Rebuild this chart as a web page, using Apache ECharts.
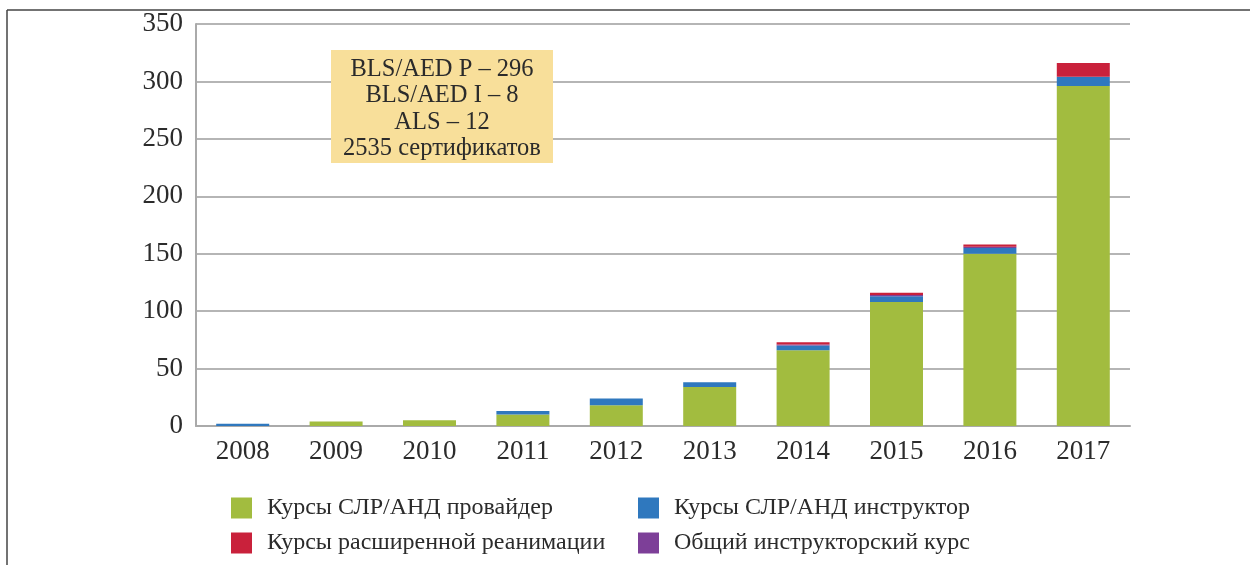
<!DOCTYPE html>
<html>
<head>
<meta charset="utf-8">
<script src="https://cdn.jsdelivr.net/npm/echarts@6/dist/echarts.min.js"></script>
<style>html,body{margin:0;padding:0;background:#fff;}#c{width:1250px;height:565px;}</style>
</head>
<body>
<div id="c"></div>
<script>
const categories = ['2008','2009','2010','2011','2012','2013','2014','2015','2016','2017'];
const providerCourses = [0, 4, 5, 10, 18, 34, 66, 108, 150, 296];
const instructorCourses = [2, 0, 0, 3, 6, 4, 4, 5, 5, 8];
const generalInstructor = [0, 0, 0, 0, 0, 0, 1, 1, 1, 0];
const advancedCourses = [0, 0, 0, 0, 0, 0, 2, 2, 2, 12];
const seriesNames = ['Курсы СЛР/АНД провайдер','Курсы СЛР/АНД инструктор','Курсы расширенной реанимации','Общий инструкторский курс'];
const noteLines = ['BLS/AED P – 296','BLS/AED I – 8','ALS – 12','2535 сертификатов'];

const FONT = '"Liberation Serif", "DejaVu Serif", serif';
const colors = {green:'#A2BC3F', blue:'#2F78BE', red:'#C9213B', purple:'#7D3F98'};

const chart = echarts.init(document.getElementById('c'));
const legendText = {fontFamily: FONT, fontSize: 24, color: '#2b2b2b', padding: [2, 0, 0, 10]};
function legendAt(name, left, top) {
  return {left: left, top: top, orient: 'horizontal', itemWidth: 21, itemHeight: 21, padding: 0,
          icon: 'rect', textStyle: legendText, data: [name]};
}
chart.setOption({
  animation: false,
  backgroundColor: '#fff',
  grid: {left: 196, right: 120, top: 24, bottom: 139},
  xAxis: {
    type: 'category', data: categories,
    axisLine: {lineStyle: {color: '#aaa', width: 2}},
    axisTick: {show: false},
    axisLabel: {fontFamily: FONT, fontSize: 27, color: '#2b2b2b', margin: 12}
  },
  yAxis: {
    type: 'value', min: 0, max: 350, interval: 50,
    axisLine: {show: true, lineStyle: {color: '#aaa', width: 2}},
    axisTick: {show: false},
    splitLine: {lineStyle: {color: '#b5b5b5', width: 2}},
    axisLabel: {fontFamily: FONT, fontSize: 27, color: '#2b2b2b', margin: 13}
  },
  legend: [
    legendAt(seriesNames[0], 231, 496),
    legendAt(seriesNames[2], 231, 531),
    legendAt(seriesNames[1], 638, 496),
    legendAt(seriesNames[3], 638, 531)
  ],
  series: [
    {name: seriesNames[0], type: 'bar', stack: 's', data: providerCourses, barWidth: 53, itemStyle: {color: colors.green}},
    {name: seriesNames[1], type: 'bar', stack: 's', data: instructorCourses, itemStyle: {color: colors.blue}},
    {name: seriesNames[3], type: 'bar', stack: 's', data: generalInstructor, itemStyle: {color: colors.purple}},
    {name: seriesNames[2], type: 'bar', stack: 's', data: advancedCourses, itemStyle: {color: colors.red}}
  ],
  graphic: [
    {type: 'line', shape: {x1: 7, y1: 10, x2: 1250, y2: 10}, style: {stroke: '#444', lineWidth: 1.5}},
    {type: 'line', shape: {x1: 7, y1: 10, x2: 7, y2: 565}, style: {stroke: '#444', lineWidth: 1.5}},
    {type: 'rect', shape: {x: 331, y: 50, width: 222, height: 113}, style: {fill: '#F8DF9A'}, z: 10},
    {type: 'text', x: 442, y: 56, z: 11,
     style: {text: noteLines.join('\n'), fontFamily: FONT, fontSize: 24.5, lineHeight: 26.5,
             fill: '#2b2b2b', align: 'center', verticalAlign: 'top'}}
  ]
});
</script>
</body>
</html>
